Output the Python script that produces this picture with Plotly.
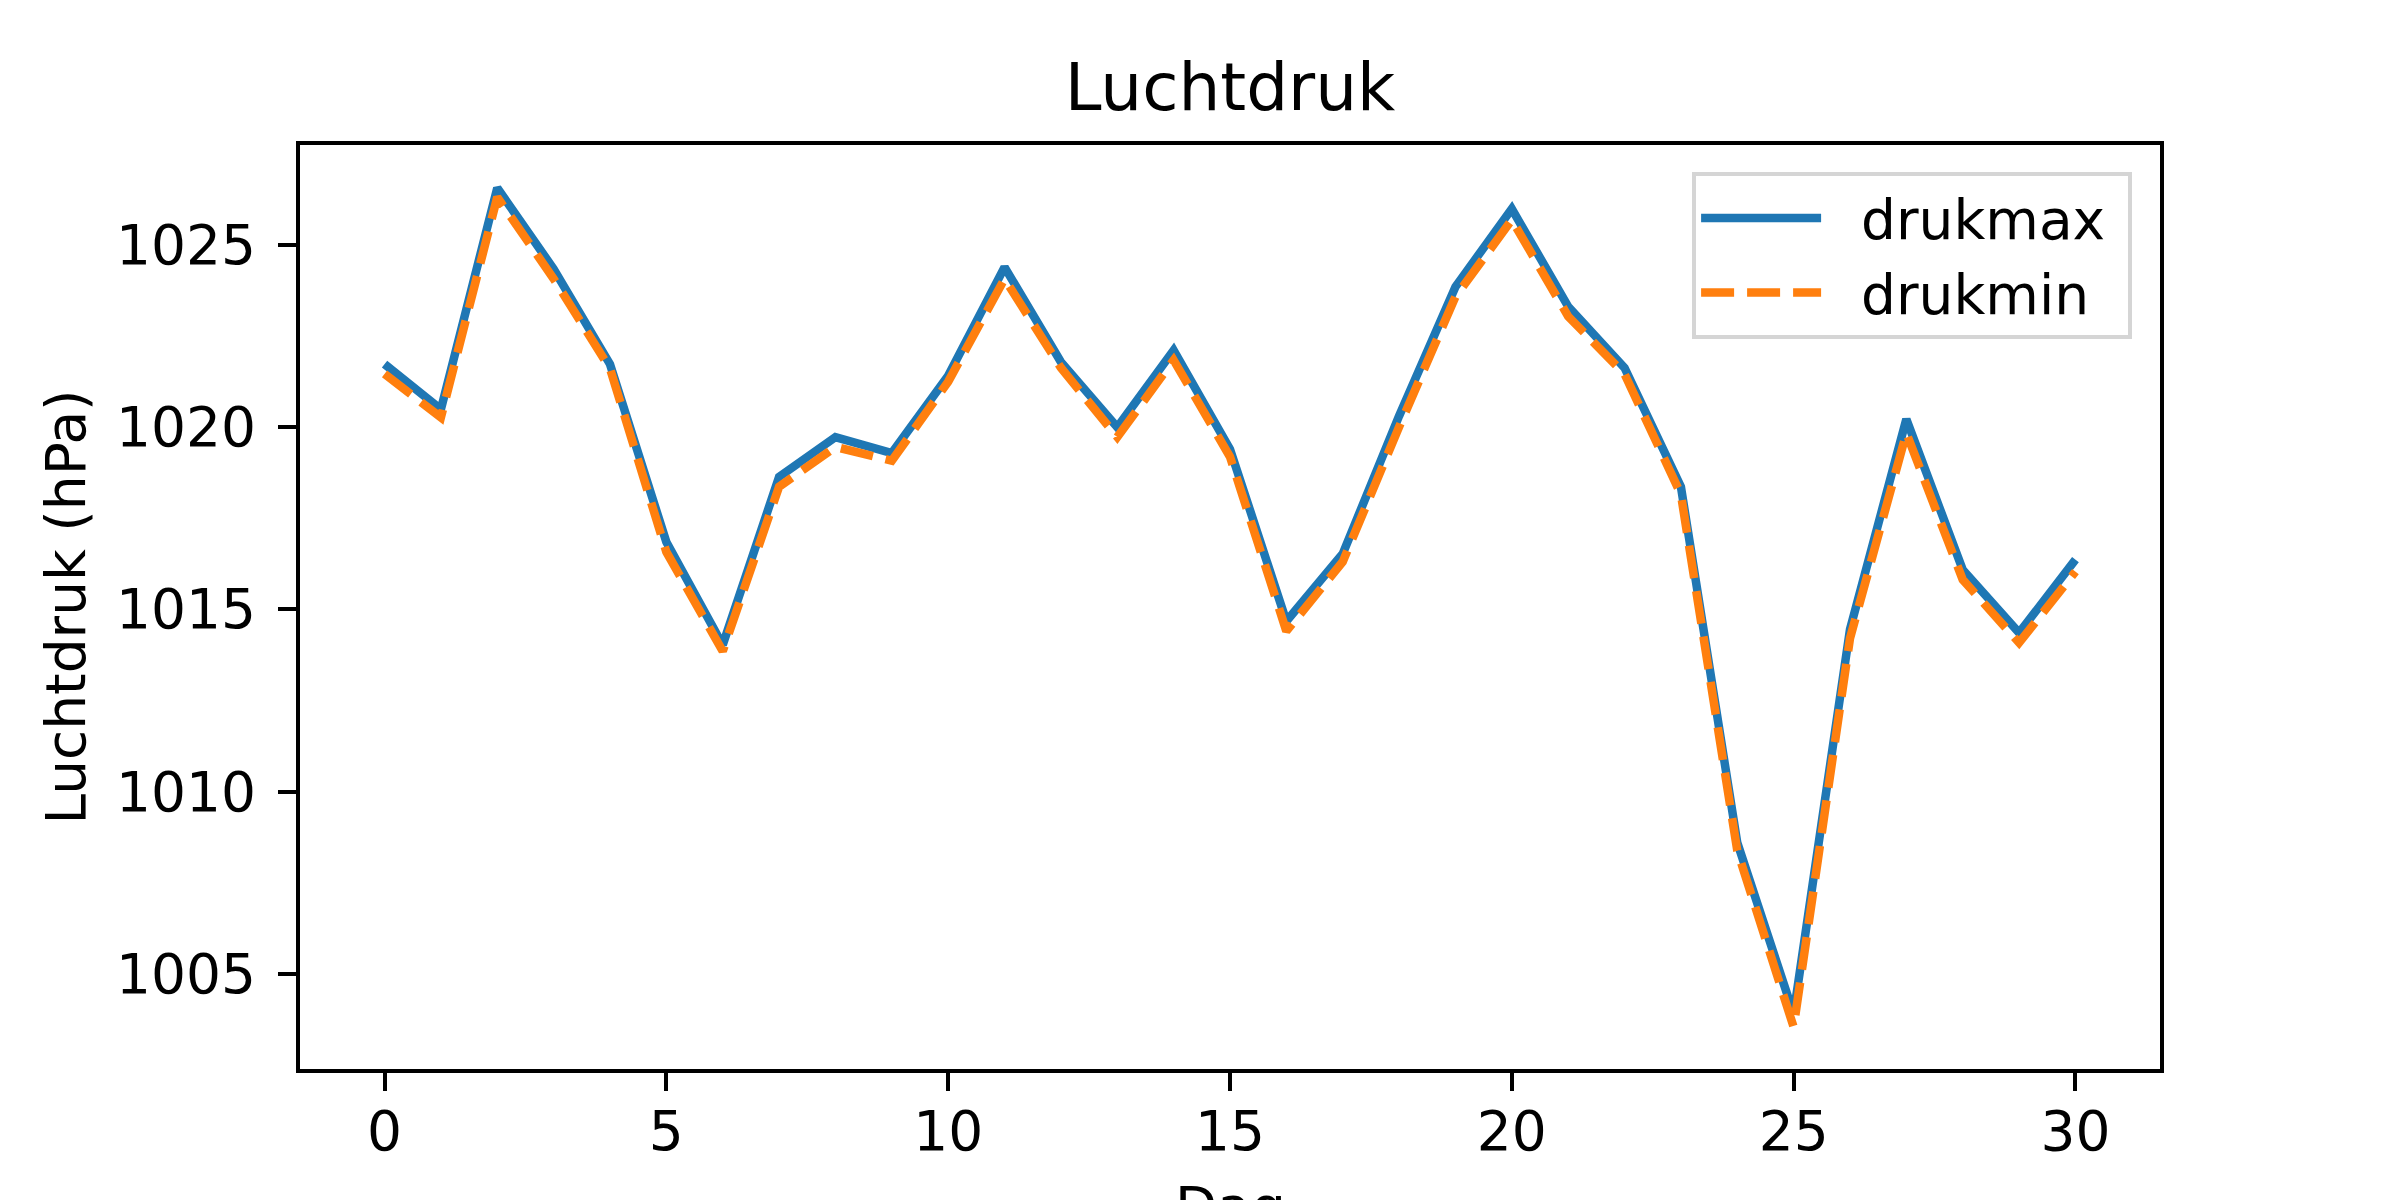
import plotly.graph_objs as go

# daily air pressure (hPa)
dag = list(range(0, 31))
drukmax = [1021.72, 1020.48, 1026.55, 1024.33, 1021.72, 1016.84, 1014.02, 1018.63,
           1019.72, 1019.28, 1021.40, 1024.38, 1021.78, 1019.99, 1022.10, 1019.39,
           1014.67, 1016.52, 1020.30, 1023.84, 1025.98, 1023.30, 1021.62, 1018.36,
           1008.60, 1003.90, 1014.45, 1020.21, 1016.08, 1014.35, 1016.36]
drukmin = [1021.45, 1020.26, 1026.30, 1024.06, 1021.60, 1016.57, 1013.85, 1018.36,
           1019.45, 1019.07, 1021.24, 1024.06, 1021.62, 1019.72, 1021.83, 1019.18,
           1014.40, 1016.30, 1020.00, 1023.57, 1025.68, 1023.03, 1021.45, 1018.15,
           1008.38, 1003.54, 1014.20, 1019.83, 1015.81, 1014.08, 1016.03]
y_ticks = [1005, 1010, 1015, 1020, 1025]
x_ticks = [0, 5, 10, 15, 20, 25, 30]

font = 'DejaVu Sans'
nb = '\u00a0'

trace_max = go.Scatter(
    x=dag,
    y=drukmax,
    mode='lines',
    name=nb * 2 + 'drukmax' + nb,
    line=dict(color='#1f77b4', width=8.5)
)

trace_min = go.Scatter(
    x=dag,
    y=drukmin,
    mode='lines',
    name=nb * 2 + 'drukmin' + nb,
    line=dict(color='#ff7f0e', width=8.5, dash='33px,13px')
)

axis_style = dict(
    showline=True, linecolor='black', linewidth=4, mirror=True,
    ticks='outside', ticklen=18, tickwidth=4, tickcolor='black',
    showgrid=False, zeroline=False,
    tickfont=dict(family=font, size=55, color='black'),
    automargin=False
)

layout = go.Layout(
    width=2400, height=1200,
    margin=dict(l=292, r=248, t=137, b=139),
    paper_bgcolor='white', plot_bgcolor='white',
    title=dict(text='Luchtdruk', x=0.5, xref='paper', xanchor='center',
               y=1 - 102 / 1200, yref='container', yanchor='bottom',
               font=dict(family=font, size=66, color='black')),
    xaxis=dict(axis_style, range=[-1.5, 31.5], tickvals=x_ticks,
               ticklabelstandoff=-7),
    yaxis=dict(axis_style, range=[1002.39, 1027.73], tickvals=y_ticks,
               ticklabelstandoff=11,
               title=dict(text='Luchtdruk (hPa)', standoff=14,
                          font=dict(family=font, size=55, color='black'))),
    # x axis title sits partly below the bottom edge, as in the original
    annotations=[dict(text='Dag', x=0.5, y=-0.1125, xref='paper', yref='paper',
                      xanchor='center', yanchor='top', showarrow=False,
                      font=dict(family=font, size=55, color='black'))],
    legend=dict(x=0.985, y=0.971, xanchor='right', yanchor='top',
                bgcolor='white', bordercolor='#d5d5d5', borderwidth=4,
                itemwidth=120, tracegroupgap=0,
                font=dict(family=font, size=55, color='black')),
    showlegend=True
)

fig = go.Figure(data=[trace_max, trace_min], layout=layout)
fig.write_html('out.html')
